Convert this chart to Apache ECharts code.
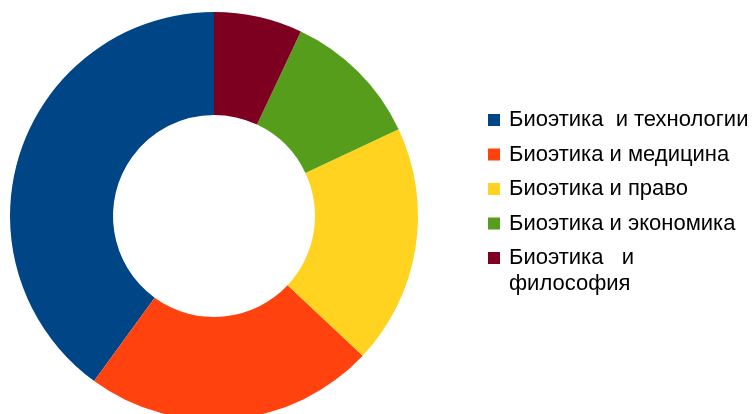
<!DOCTYPE html>
<html>
<head>
<meta charset="utf-8">
<style>
  html, body { margin: 0; padding: 0; background: #ffffff; }
  #chart { width: 755px; height: 414px; }
</style>
<script src="https://cdn.jsdelivr.net/npm/echarts@6/dist/echarts.min.js"></script>
</head>
<body>
<div id="chart"></div>
<script>
// Share of each topic (percent), listed counter-clockwise from 12 o'clock
const categories = [
  'Биоэтика  и технологии',
  'Биоэтика и медицина',
  'Биоэтика и право',
  'Биоэтика и экономика',
  'Биоэтика   и философия'
];
const shares = [40, 23, 19, 11, 7];
const colors = ['#004586', '#ff420e', '#ffd320', '#579d1c', '#7e0021'];

// the last legend entry wraps after its first line
const wrapName = 'Биоэтика   и философия';
const wrapFirst = 'Биоэтика   и';
const wrapRest = 'философия';

const legendFont = 'Liberation Sans, Arial, sans-serif';

const chart = echarts.init(document.getElementById('chart'));

chart.setOption({
  animation: false,
  color: colors,
  legend: {
    orient: 'vertical',
    left: 483,
    top: 100,
    height: 300,
    itemWidth: 12,
    itemHeight: 12,
    itemGap: 4.5,
    icon: 'rect',
    data: categories,
    formatter: function (name) {
      return name === wrapName ? wrapFirst : name;
    },
    textStyle: {
      fontFamily: legendFont,
      fontSize: 22,
      lineHeight: 30,
      padding: [0, 0, 0, 4],
      color: '#000000'
    },
    itemStyle: { borderWidth: 0 },
    selectedMode: false
  },
  graphic: [{
    type: 'text',
    left: 509,
    top: 273,
    style: {
      text: wrapRest,
      font: '22px ' + legendFont,
      fill: '#000000'
    },
    silent: true
  }],
  series: [{
    type: 'pie',
    center: [214, 216],
    radius: [101, 204],
    startAngle: 90,
    clockwise: false,
    label: { show: false },
    labelLine: { show: false },
    emphasis: { disabled: true },
    itemStyle: { borderWidth: 0 },
    data: categories.map((name, i) => ({ name: name, value: shares[i] }))
  }]
});
</script>
</body>
</html>
